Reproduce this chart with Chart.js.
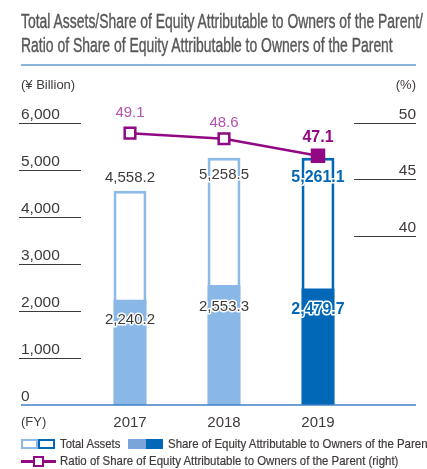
<!DOCTYPE html>
<html lang="en">
<head>
    <meta charset="UTF-8">
    <title>Total Assets / Share of Equity</title>
    <script src="https://cdn.jsdelivr.net/npm/chart.js"></script>
    <style>
        body { margin: 0; background: #fff; }
        #wrap { position: relative; width: 427px; height: 469px; overflow: hidden; }
        #wrap canvas { position: absolute; left: 0; top: 0; }
        .fit { position: absolute; white-space: nowrap; transform-origin: 0 0; display: inline-block;
               font-family: "Liberation Sans Narrow", "Liberation Sans", Arial, sans-serif; color: #3e3a39; }
        .title { font-size: 20px; line-height: 24px; color: #595757; left: 21px; -webkit-text-stroke: 0.4px #595757; }
        .leg { font-size: 13px; line-height: 13px; -webkit-text-stroke: 0.2px #3e3a39; }
        .rule { position: absolute; left: 21px; width: 395px; top: 64px; height: 2px; background: #8bb3dc; }
        .box { position: absolute; box-sizing: border-box; }
    </style>
</head>
<body>
<div id="wrap">
    <canvas id="chart" width="427" height="469"></canvas>

    <div class="fit title" id="t1" style="top:9px">Total Assets/Share of Equity Attributable to Owners of the Parent/</div>
    <div class="fit title" id="t2" style="top:33px">Ratio of Share of Equity Attributable to Owners of the Parent</div>
    <div class="rule"></div>

    <!-- legend -->
    <div class="box" style="left:21px;top:439px;width:17px;height:10px;border:2px solid #8dbbe7"></div>
    <div class="box" style="left:38px;top:439px;width:17px;height:10px;border:2px solid #0068b7"></div>
    <div class="fit leg" id="l1" style="left:60px;top:437px">Total Assets</div>
    <div class="box" style="left:128px;top:439px;width:18px;height:10px;background:#7ba5da"></div>
    <div class="box" style="left:146px;top:439px;width:17px;height:10px;background:#0068b7"></div>
    <div class="fit leg" id="l2" style="left:168px;top:437px">Share of Equity Attributable to Owners of the Parent</div>

    <div class="box" style="left:21px;top:460px;width:35px;height:3px;background:#920783"></div>
    <div class="box" style="left:33px;top:456px;width:11px;height:11px;background:#fff;border:2.5px solid #920783"></div>
    <div class="fit leg" id="l3" style="left:60px;top:454px">Ratio of Share of Equity Attributable to Owners of the Parent (right)</div>
</div>

<script>
// data
const years = ["2017", "2018", "2019"];
const totalAssets = [4558.2, 5258.5, 5261.1];
const equity = [2240.2, 2553.3, 2479.7];
const equityRatio = [49.1, 48.6, 47.1];
const leftTicks = [0, 1000, 2000, 3000, 4000, 5000, 6000];
const rightTicks = [40, 45, 50];

// label placement relative to the mark (px)
const totalLabelDy = [-13, 17, 20];
const equityLabelDy = [20, 22, 21];
const ratioLabelDy = [-20, -16, -18];

const ink = "#3e3a39";
const lightBlue = "#8ab8e6";
const darkBlue = "#0068b7";
const purple = "#920783";

function fmt(v) {
    return v.toLocaleString("en-US", { minimumFractionDigits: 1, maximumFractionDigits: 1 });
}

function haloText(ctx, text, x, y, font, color) {
    ctx.font = font;
    ctx.lineJoin = "round";
    ctx.lineWidth = 3;
    ctx.strokeStyle = "#fff";
    ctx.strokeText(text, x, y);
    ctx.fillStyle = color;
    ctx.fillText(text, x, y);
}

const decor = {
    id: "decor",
    afterDatasetsDraw(chart) {
        const ctx = chart.ctx;
        const yL = chart.scales.y, yR = chart.scales.y2, xS = chart.scales.x;
        ctx.save();
        ctx.textBaseline = "alphabetic";

        // left axis
        ctx.font = "15.5px 'Liberation Sans', Arial";
        ctx.fillStyle = ink;
        ctx.strokeStyle = ink;
        ctx.lineWidth = 1;
        ctx.textAlign = "left";
        leftTicks.forEach(v => {
            const y = Math.round(yL.getPixelForValue(v));
            ctx.fillText(v.toLocaleString("en-US"), 21, y - 4);
            if (v > 0) {
                ctx.beginPath();
                ctx.moveTo(19, y + 0.5);
                ctx.lineTo(81, y + 0.5);
                ctx.stroke();
            }
        });

        // right axis
        ctx.textAlign = "right";
        rightTicks.forEach(v => {
            const y = Math.round(yR.getPixelForValue(v));
            ctx.fillText(String(v), 416, y - 4);
            ctx.beginPath();
            ctx.moveTo(354, y + 0.5);
            ctx.lineTo(416, y + 0.5);
            ctx.stroke();
        });

        // units
        ctx.font = "13px 'Liberation Sans', Arial";
        ctx.textAlign = "left";
        ctx.fillText("(¥ Billion)", 21, 89);
        ctx.fillText("(FY)", 21, 426);
        ctx.textAlign = "right";
        ctx.fillText("(%)", 416, 89);

        // baseline
        const y0 = yL.getPixelForValue(0);
        ctx.strokeStyle = "#3f80c6";
        ctx.lineWidth = 1.5;
        ctx.beginPath();
        ctx.moveTo(21, y0);
        ctx.lineTo(416, y0);
        ctx.stroke();

        // categories
        ctx.font = "15px 'Liberation Sans', Arial";
        ctx.textAlign = "center";
        ctx.fillStyle = ink;
        years.forEach((yr, i) => ctx.fillText(yr, xS.getPixelForValue(i), 427));

        // value labels
        ctx.textBaseline = "middle";
        const mEq = chart.getDatasetMeta(0).data;
        const mTot = chart.getDatasetMeta(1).data;
        const mRat = chart.getDatasetMeta(2).data;
        years.forEach((yr, i) => {
            const last = i === years.length - 1;
            const font = last ? "bold 16px 'Liberation Sans', Arial" : "15px 'Liberation Sans', Arial";
            const col = last ? darkBlue : ink;
            haloText(ctx, fmt(totalAssets[i]), mTot[i].x, mTot[i].y + totalLabelDy[i], font, col);
            haloText(ctx, fmt(equity[i]), mEq[i].x, mEq[i].y + equityLabelDy[i], font, col);
            ctx.font = font;
            ctx.fillStyle = last ? purple : "#b352b0";
            ctx.fillText(fmt(equityRatio[i]), mRat[i].x, mRat[i].y + ratioLabelDy[i]);
        });
        ctx.restore();
    }
};

new Chart(document.getElementById("chart"), {
    type: "bar",
    data: {
        labels: years,
        datasets: [
            {
                label: "Share of Equity Attributable to Owners of the Parent",
                data: equity,
                backgroundColor: [lightBlue, lightBlue, darkBlue],
                borderWidth: 0,
                grouped: false,
                order: 1
            },
            {
                label: "Total Assets",
                data: totalAssets,
                backgroundColor: "#fff",
                borderColor: ["#8dbbe7", "#8dbbe7", darkBlue],
                borderWidth: 3,
                borderSkipped: "bottom",
                grouped: false,
                order: 2
            },
            {
                type: "line",
                label: "Ratio of Share of Equity Attributable to Owners of the Parent (right)",
                data: equityRatio,
                yAxisID: "y2",
                borderColor: purple,
                borderWidth: 2.5,
                pointStyle: "rect",
                pointRadius: [7.5, 7.5, 8.5],
                pointBorderWidth: 2.5,
                pointBackgroundColor: ["#fff", "#fff", purple],
                pointBorderColor: purple,
                tension: 0,
                order: 0
            }
        ]
    },
    options: {
        responsive: false,
        animation: false,
        layout: { padding: { left: 83, right: 62, top: 123, bottom: 64 } },
        datasets: { bar: { barPercentage: 0.35, categoryPercentage: 1 } },
        scales: {
            x: { display: false, offset: true },
            y: { display: false, min: 0, max: 6000 },
            y2: { display: false, min: 25, max: 50, position: "right" }
        },
        plugins: { legend: { display: false }, tooltip: { enabled: false } }
    },
    plugins: [decor]
});

// squeeze the condensed-looking texts to the widths in the reference
function squeeze(id, target) {
    const el = document.getElementById(id);
    const s = target / el.scrollWidth;
    el.style.transform = "scaleX(" + s + ")";
    return s;
}
const ts = squeeze("t2", 372);
document.getElementById("t1").style.transform = "scaleX(" + ts + ")";
const ls = squeeze("l3", 338);
document.getElementById("l2").style.transform = "scaleX(" + ls + ")";
squeeze("l1", 60);
</script>
</body>
</html>
